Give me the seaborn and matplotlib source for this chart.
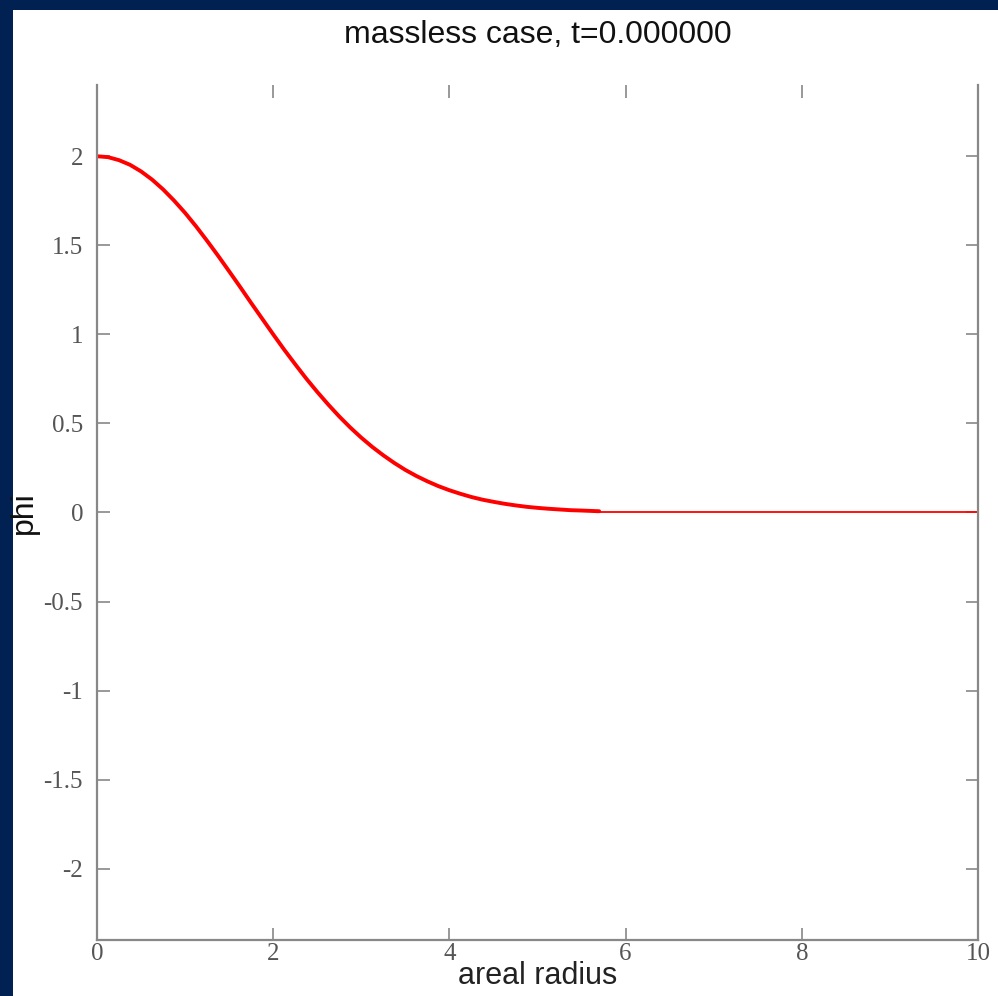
import numpy as np
import pandas as pd
import seaborn as sns
import matplotlib.pyplot as plt
from matplotlib.patches import Rectangle

# values
r_pulse = [0.0, 0.125, 0.25, 0.375, 0.5, 0.625, 0.75, 0.875, 1.0, 1.125,
           1.25, 1.375, 1.5, 1.625, 1.75, 1.875, 2.0, 2.125, 2.25, 2.375,
           2.5, 2.625, 2.75, 2.875, 3.0, 3.125, 3.25, 3.375, 3.5, 3.625,
           3.75, 3.875, 4.0, 4.125, 4.25, 4.375, 4.5, 4.625, 4.75, 4.875,
           5.0, 5.125, 5.25, 5.375, 5.5, 5.7]
phi_pulse = [2.0, 1.995, 1.978, 1.952, 1.915, 1.869, 1.814, 1.751, 1.682, 1.606,
             1.525, 1.441, 1.354, 1.266, 1.176, 1.088, 1.0, 0.914, 0.832, 0.752,
             0.677, 0.606, 0.539, 0.477, 0.42, 0.368, 0.321, 0.278, 0.239, 0.205,
             0.175, 0.148, 0.125, 0.105, 0.087, 0.072, 0.06, 0.049, 0.04, 0.032,
             0.026, 0.021, 0.017, 0.013, 0.011, 0.007]
r_tail = [5.7, 10.0]
phi_tail = [0.0, 0.0]

x_ticks = [0, 2, 4, 6, 8, 10]
y_ticks = [-2, -1.5, -1, -0.5, 0, 0.5, 1, 1.5, 2]
y_tick_labels = ['-2', '-1.5', '-1', '-0.5', '0', '0.5', '1', '1.5', '2']

pulse = pd.DataFrame({'r': r_pulse, 'phi': phi_pulse})
tail = pd.DataFrame({'r': r_tail, 'phi': phi_tail})

sns.set_theme(style='white')
plt.rcParams['font.family'] = ['Liberation Sans', 'DejaVu Sans']

fig = plt.figure(figsize=(9.98, 9.96), dpi=100, facecolor='#002152')
# white page area, navy strip left and top
fig.patches.append(Rectangle((13 / 998, 0), 1 - 13 / 998, 1 - 10 / 996,
                             transform=fig.transFigure, facecolor='white',
                             edgecolor='none', zorder=-10))
ax = fig.add_axes([97 / 998, 1 - 940 / 996, 881 / 998, 855 / 996])
ax.set_zorder(1)
ax.set_facecolor('white')

sns.lineplot(data=pulse, x='r', y='phi', ax=ax, color='red', linewidth=2.8,
             estimator=None, sort=False)
sns.lineplot(data=tail, x='r', y='phi', ax=ax, color='red', linewidth=1.3,
             estimator=None, sort=False)

ax.set_xlim(0, 10)
ax.set_ylim(-2.4, 2.4)
ax.set_xticks(x_ticks)
ax.set_xticklabels([str(t) for t in x_ticks])
ax.set_yticks(y_ticks)
ax.set_yticklabels(y_tick_labels)

for lab in ax.get_xticklabels() + ax.get_yticklabels():
    lab.set_family(['Liberation Serif', 'DejaVu Serif'])
    lab.set_fontsize(18)
    lab.set_color('#555555')

ax.tick_params(axis='both', which='both', direction='in', length=9,
               width=1.2, color='#888888', top=True, right=True,
               bottom=True, left=True)
ax.tick_params(axis='x', pad=2)
ax.tick_params(axis='y', pad=10)

for side in ['left', 'right', 'bottom']:
    ax.spines[side].set_color('#888888')
    ax.spines[side].set_linewidth(1.6)
ax.spines['top'].set_visible(False)

ax.set_title('massless case, t=0.000000', fontsize=23, color='#111111', pad=30)
ax.set_xlabel('areal radius', fontsize=22, color='#222222')
ax.set_ylabel('phi', fontsize=23, color='#111111')
ax.xaxis.set_label_coords(0.5, -0.024)
ax.yaxis.set_label_coords(-0.066, 0.5)

fig.savefig('out.png', dpi=100, facecolor=fig.get_facecolor())
